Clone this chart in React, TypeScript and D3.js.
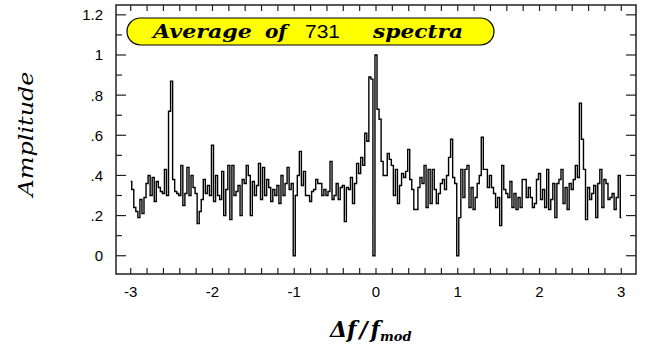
import React from "react";
import * as d3 from "d3";

// Amplitude values on a uniform grid of 0.025 from -3 to 3 (241 points), split by region
const ampSeg1 = [ // -3.000 .. -2.025
  0.37, 0.33, 0.24, 0.22, 0.19, 0.28, 0.21, 0.29, 0.36, 0.40,
  0.30, 0.39, 0.27, 0.37, 0.34, 0.32, 0.31, 0.43, 0.30, 0.72,
  0.87, 0.38, 0.32, 0.31, 0.30, 0.45, 0.25, 0.31, 0.44, 0.30,
  0.40, 0.34, 0.31, 0.16, 0.22, 0.28, 0.38, 0.31, 0.35, 0.30,
];
const ampSeg2 = [ // -2.000 .. -1.025
  0.55, 0.27, 0.40, 0.30, 0.28, 0.42, 0.20, 0.33, 0.45, 0.18,
  0.45, 0.30, 0.32, 0.35, 0.20, 0.38, 0.36, 0.45, 0.40, 0.20,
  0.37, 0.30, 0.35, 0.46, 0.28, 0.44, 0.30, 0.38, 0.34, 0.27,
  0.33, 0.30, 0.35, 0.26, 0.40, 0.30, 0.36, 0.44, 0.33, 0.36,
];
const ampSeg3 = [ // -1.000 .. -0.025
  0.00, 0.30, 0.40, 0.52, 0.35, 0.42, 0.30, 0.30, 0.27, 0.32,
  0.33, 0.38, 0.36, 0.36, 0.30, 0.33, 0.30, 0.32, 0.47, 0.28,
  0.30, 0.36, 0.28, 0.34, 0.35, 0.17, 0.34, 0.33, 0.39, 0.26,
  0.36, 0.46, 0.41, 0.49, 0.45, 0.61, 0.57, 0.89, 0.88, 0.00,
];
const ampSeg4 = [ // 0.000 .. 0.975
  1.00, 0.73, 0.68, 0.47, 0.40, 0.40, 0.51, 0.48, 0.45, 0.30,
  0.43, 0.26, 0.35, 0.41, 0.39, 0.42, 0.53, 0.38, 0.33, 0.23,
  0.23, 0.34, 0.39, 0.36, 0.45, 0.24, 0.43, 0.26, 0.43, 0.33,
  0.26, 0.31, 0.36, 0.38, 0.33, 0.40, 0.49, 0.58, 0.39, 0.36,
];
const ampSeg5 = [ // 1.000 .. 1.975
  0.00, 0.19, 0.43, 0.29, 0.43, 0.45, 0.24, 0.34, 0.23, 0.29,
  0.36, 0.40, 0.59, 0.43, 0.43, 0.34, 0.40, 0.34, 0.31, 0.24,
  0.29, 0.15, 0.45, 0.33, 0.31, 0.29, 0.37, 0.24, 0.31, 0.23,
  0.29, 0.24, 0.38, 0.38, 0.29, 0.34, 0.29, 0.24, 0.26, 0.38,
];
const ampSeg6 = [ // 2.000 .. 3.000
  0.41, 0.28, 0.33, 0.24, 0.43, 0.23, 0.28, 0.36, 0.19, 0.36,
  0.38, 0.43, 0.26, 0.34, 0.23, 0.36, 0.33, 0.38, 0.45, 0.39,
  0.76, 0.58, 0.43, 0.18, 0.34, 0.28, 0.31, 0.35, 0.19, 0.36,
  0.43, 0.24, 0.38, 0.36, 0.28, 0.29, 0.31, 0.23, 0.29, 0.40,
  0.19,
];

const xStart = -3;
const xStep = 0.025;
const xTickValues = [-3, -2, -1, 0, 1, 2, 3];
const yTickValues = [0, 0.2, 0.4, 0.6, 0.8, 1, 1.2];
const yTickLabels = ["0", ".2", ".4", ".6", ".8", "1", "1.2"];
const titleParts = ["Average", "of", "731", "spectra"];

const W = 649;
const H = 345;

export default function App() {
  const amps = [...ampSeg1, ...ampSeg2, ...ampSeg3, ...ampSeg4, ...ampSeg5, ...ampSeg6];
  const data = amps.map((v, i) => ({ x: xStart + i * xStep, y: v }));

  const x = d3.scaleLinear().domain([-3.18, 3.18]).range([116, 636]);
  const y = d3.scaleLinear().domain([-0.091, 1.249]).range([274, 5]);

  const line = d3
    .line<{ x: number; y: number }>()
    .x((d) => x(d.x))
    .y((d) => y(d.y))
    .curve(d3.curveStep);

  const xMinor = d3.range(-30, 31, 2).map((v) => v / 10);
  const yMinor = d3.range(0, 13, 1).map((v) => v / 10).filter((v) => Math.round(v * 10) % 2 === 1);

  const [x0, x1] = x.range();
  const [yb, yt] = y.range();

  const serif = "'DejaVu Serif', 'Liberation Serif', serif";
  const sans = "'Liberation Sans', Arial, sans-serif";

  return (
    <svg width={W} height={H} style={{ position: "absolute", left: 0, top: 0, background: "#fff" }}>
      {/* data */}
      <path d={line(data) || ""} fill="none" stroke="#000" strokeWidth={1.4} />

      {/* frame */}
      <rect x={x0} y={yt} width={x1 - x0} height={yb - yt} fill="none" stroke="#222" strokeWidth={1.5} />

      {/* x ticks */}
      {xMinor.map((v) => (
        <g key={"xt" + v}>
          <line x1={x(v)} x2={x(v)} y1={yb} y2={yb - 6} stroke="#222" strokeWidth={1.2} />
          <line x1={x(v)} x2={x(v)} y1={yt} y2={yt + 6} stroke="#222" strokeWidth={1.2} />
        </g>
      ))}
      {xTickValues.map((v) => (
        <text key={"xl" + v} x={x(v)} y={297} textAnchor="middle" fontFamily={sans} fontSize={15} fill="#000">
          {v === 0 ? "0" : String(v)}
        </text>
      ))}

      {/* y ticks */}
      {yTickValues.map((v) => (
        <g key={"yt" + v}>
          <line x1={x0} x2={x0 + 10} y1={y(v)} y2={y(v)} stroke="#222" strokeWidth={1.2} />
          <line x1={x1} x2={x1 - 10} y1={y(v)} y2={y(v)} stroke="#222" strokeWidth={1.2} />
        </g>
      ))}
      {yMinor.map((v) => (
        <g key={"ym" + v}>
          <line x1={x0} x2={x0 + 6} y1={y(v)} y2={y(v)} stroke="#222" strokeWidth={1.2} />
          <line x1={x1} x2={x1 - 6} y1={y(v)} y2={y(v)} stroke="#222" strokeWidth={1.2} />
        </g>
      ))}
      {yTickValues.map((v, i) => (
        <text key={"yl" + v} x={103} y={y(v) + 5.5} textAnchor="end" fontFamily={sans} fontSize={15} fill="#000">
          {yTickLabels[i]}
        </text>
      ))}

      {/* title pill */}
      <rect x={127} y={18} width={367} height={27} rx={13.5} ry={13.5} fill="#ffff00" stroke="#000" strokeWidth={1.2} />
      <text x={153} y={38} fontFamily={serif} fontStyle="italic" fontWeight="bold" fontSize={18} textLength={99} lengthAdjust="spacingAndGlyphs">
        {titleParts[0]}
      </text>
      <text x={265} y={38} fontFamily={serif} fontStyle="italic" fontWeight="bold" fontSize={18} textLength={22} lengthAdjust="spacingAndGlyphs">
        {titleParts[1]}
      </text>
      <text x={305} y={38} fontFamily={sans} fontSize={18} textLength={35} lengthAdjust="spacingAndGlyphs">
        {titleParts[2]}
      </text>
      <text x={373} y={38} fontFamily={serif} fontStyle="italic" fontWeight="bold" fontSize={18} textLength={90} lengthAdjust="spacingAndGlyphs">
        {titleParts[3]}
      </text>

      {/* axis titles */}
      <text
        transform={`translate(33, 134) rotate(-90)`}
        textAnchor="middle"
        fontFamily={serif}
        fontStyle="italic"
        fontSize={20}
        textLength={125}
        lengthAdjust="spacingAndGlyphs"
      >
        Amplitude
      </text>
      <text x={330} y={337} fontFamily={serif} fontStyle="italic" fontWeight="bold" fontSize={22}>
        <tspan>Δ</tspan>
        <tspan>f</tspan>
        <tspan dx={3}>/</tspan>
        <tspan dx={3}>f</tspan>
        <tspan dy={4} fontSize={13}>mod</tspan>
      </text>
    </svg>
  );
}
